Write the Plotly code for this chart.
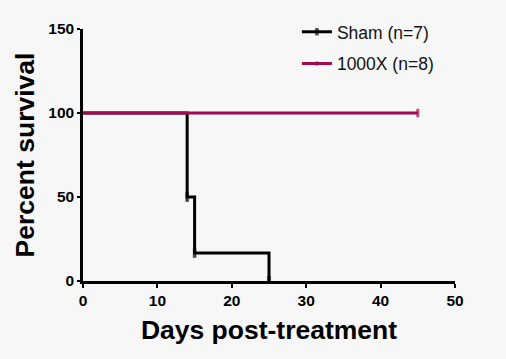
import plotly.graph_objects as go

# Data
sham_days = [0, 14, 15, 25]
sham_surv = [100, 50, 16.7, 0]
sham_censor = [0, 7, 7, 7]
x1000_days = [0, 45]
x1000_surv = [100, 100]
x1000_censor = [0, 6]
x_ticks = [0, 10, 20, 30, 40, 50]
y_ticks = [0, 50, 100, 150]

BLACK = "#000000"
MAROON = "#a3094f"
FONT = "Arial, Liberation Sans, sans-serif"

fig = go.Figure()
fig.add_trace(go.Scatter(
    x=sham_days, y=sham_surv, name="Sham (n=7)", mode="lines+markers",
    line=dict(color=BLACK, width=3, shape="hv"),
    marker=dict(symbol="line-ns", size=sham_censor, color=BLACK, line=dict(color=BLACK, width=3.5)),
    legendgroup="a", legendrank=1,
))
fig.add_trace(go.Scatter(
    x=x1000_days, y=x1000_surv, name="1000X (n=8)", mode="lines+markers",
    line=dict(color=MAROON, width=3, shape="hv"),
    marker=dict(symbol="line-ns", size=x1000_censor, color=MAROON, line=dict(color=MAROON, width=3)),
    legendgroup="b", legendrank=2,
))

tickfont = dict(size=15.5, family=FONT, color="#000", weight="bold")
fig.update_layout(
    width=506, height=359,
    margin=dict(l=83, r=51, t=29, b=78),
    paper_bgcolor="#f7f7f7", plot_bgcolor="#f7f7f7",
    font=dict(family=FONT, color="#000"),
    showlegend=True,
    legend=dict(x=0.575, y=1.06, xanchor="left", yanchor="top",
                bgcolor="rgba(0,0,0,0)", font=dict(size=17.5, color="#111"),
                tracegroupgap=6, traceorder="grouped"),
    xaxis=dict(range=[0, 50], tickvals=x_ticks, ticktext=[str(v) for v in x_ticks],
               showgrid=False, zeroline=False, automargin=False,
               showline=True, linecolor=BLACK, linewidth=2.5,
               ticks="outside", ticklen=4, tickwidth=2, tickcolor=BLACK,
               tickfont=tickfont,
               title=dict(text="<b>Days post-treatment</b>", font=dict(size=26.5), standoff=13)),
    yaxis=dict(range=[0, 150], tickvals=y_ticks, ticktext=[str(v) for v in y_ticks],
               showgrid=False, zeroline=False, automargin=False,
               showline=True, linecolor=BLACK, linewidth=2.5,
               ticks="outside", ticklen=3, tickwidth=2, tickcolor=BLACK,
               tickfont=tickfont,
               title=dict(text="<b>Percent survival</b>", font=dict(size=26.5), standoff=7)),
)

fig.write_html("out.html", post_script="document.body.style.margin='0';",
               config={"displayModeBar": False})
